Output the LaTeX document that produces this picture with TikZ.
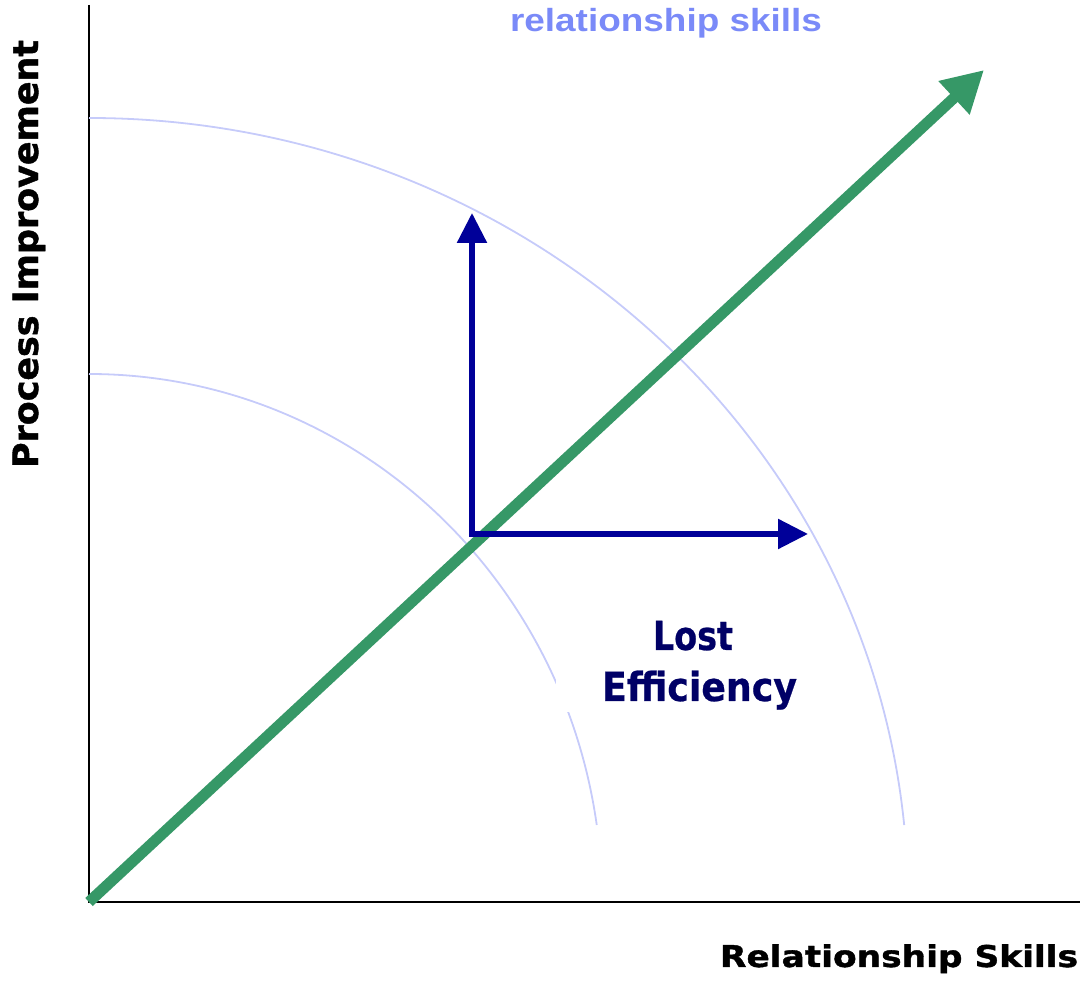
\documentclass[tikz,border=0pt]{standalone}
\usepackage{fontspec}
\usepackage{graphicx}
\usetikzlibrary{arrows.meta}
\newfontface\axisfont{DejaVu Sans Bold}[FakeBold=1.2]
\newfontface\gapfont{DejaVu Sans Bold}[FakeBold=0.6]
\newfontfamily\headfont{Liberation Sans}
\definecolor{growth}{RGB}{54,152,103}
\definecolor{navyline}{RGB}{0,0,153}
\definecolor{navytext}{RGB}{0,0,102}
\definecolor{ringline}{RGB}{198,203,250}
\definecolor{headblue}{RGB}{122,138,248}
% stretch a text horizontally to a given width, keeping its height
\newcommand{\fitw}[2]{\resizebox{#1}{\height}{#2}}
\begin{document}
\begin{tikzpicture}[x=1pt,y=1pt,
  axisline/.style={draw=black,line width=2pt},
  ring/.style={draw=ringline,line width=1.8pt},
  growtharrow/.style={draw=growth,line width=11pt,-{Triangle[length=41pt,width=43pt]}},
  shiftarrow/.style={draw=navyline,line width=5.5pt,-{Triangle[length=30pt,width=29pt]}},
  txt/.style={inner sep=0pt,outer sep=0pt}
]
\useasboundingbox (0,0) rectangle (1080,985);

% axes
\coordinate (origin) at (89,83);
\coordinate (ytop) at (89,980);
\coordinate (xend) at (1080,83);
\draw[axisline] (ytop) -- (origin) -- (xend);

% quarter rings of equal effort
\draw[ring] (89,867) arc[start angle=90,end angle=5.5,x radius=819pt,y radius=782pt];
\draw[ring] (89,611) arc[start angle=90,end angle=8.2,x radius=513pt,y radius=526pt];

% label panel for the gap region
\fill[white] (556,273) rectangle (840,385);
\node[txt,anchor=base,text=navytext] (lost) at (693,335)
  {\fitw{80pt}{\gapfont\fontsize{40pt}{48pt}\selectfont Lost}};
\node[txt,anchor=base,text=navytext] (eff) at (699.5,284)
  {\fitw{195pt}{\gapfont\fontsize{40pt}{48pt}\selectfont Efficiency}};

% balanced growth
\coordinate (gtip) at (984,915);
\draw[growtharrow] (origin) -- (gtip);

% one-sided moves
\coordinate (corner) at (472,451);
\coordinate (uptip) at (472,772);
\coordinate (righttip) at (808,451);
\draw[shiftarrow] ([yshift=-2.75pt]corner) -- (uptip);
\draw[shiftarrow] ([xshift=-2.75pt]corner) -- (righttip);

% titles
\node[txt,anchor=base west,text=headblue] (head) at (510,953)
  {\fitw{312pt}{\headfont\fontsize{32pt}{38pt}\selectfont\bfseries relationship skills}};
\node[txt,anchor=base west] (xlabel) at (720,18)
  {\fitw{358pt}{\axisfont\fontsize{30pt}{36pt}\selectfont Relationship Skills}};
\node[txt,anchor=base west,rotate=90] (ylabel) at (38,517)
  {\fitw{428pt}{\axisfont\fontsize{35pt}{42pt}\selectfont Process Improvement}};
\end{tikzpicture}
\end{document}
